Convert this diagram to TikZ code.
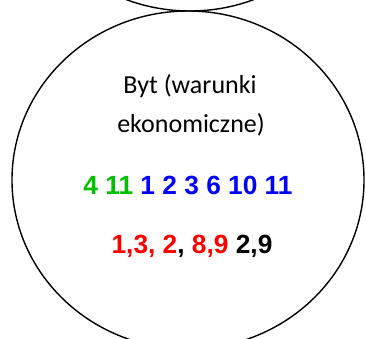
\documentclass[tikz,border=0pt]{standalone}
\usepackage{fontspec}
\setmainfont{Carlito}
\newfontfamily\arialfont{Liberation Sans}
\usepackage{xcolor}
\usetikzlibrary{shapes.geometric,positioning}
\definecolor{numgreen}{RGB}{0,192,0}
\definecolor{numblue}{RGB}{0,0,255}
\definecolor{numred}{RGB}{255,0,0}
\tikzstyle{bubble} = [ellipse, draw=black, line width=1.4pt, minimum width=352pt, minimum height=338pt, inner sep=0pt]
\tikzstyle{txt} = [font=\fontsize{26}{30}\selectfont, inner sep=0pt, anchor=base]
\tikzstyle{nums} = [font=\arialfont\bfseries\fontsize{26.3}{30}\selectfont, inner sep=0pt, anchor=base]

\begin{document}
\begin{tikzpicture}[x=1pt, y=-1pt]
    \useasboundingbox (0,0) rectangle (366,338);
    \clip (0,0) rectangle (366,338);

    % Circles
    \node (upper) [bubble] at (190,-158) {};
    \node (byt) [bubble] at (188,180) {};

    % Texts
    \node (title1) [txt] at (190,93) {Byt (warunki};
    \node (title2) [txt] at (191,132) {ekonomiczne)};
    \node (row1) [nums] at (188,194) {\textcolor{numgreen}{4 11} \textcolor{numblue}{1 2 3 6 10 11}};
    \node (row2) [nums] at (192,253) {\textcolor{numred}{1,3, 2}, \textcolor{numred}{8,9} 2,9};

\end{tikzpicture}
\end{document}
